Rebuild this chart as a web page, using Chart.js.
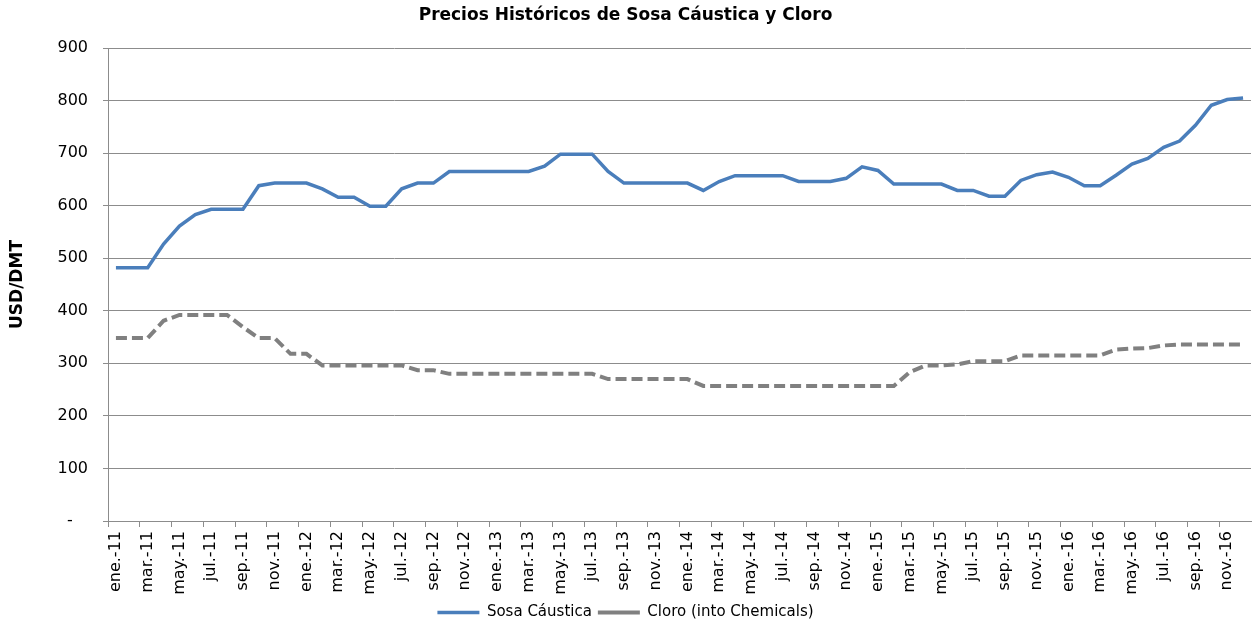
<!DOCTYPE html>
<html>
<head>
<meta charset="utf-8">
<script src="https://cdn.jsdelivr.net/npm/chart.js@4"></script>
<style>
  html, body { margin: 0; padding: 0; background: #fff; }
  #wrap { width: 1253px; height: 626px; }
</style>
</head>
<body>
<div id="wrap"><canvas id="chart"></canvas></div>
<script>
// Meses (ene.-11 .. dic.-16)
const meses = ['ene.', 'feb.', 'mar.', 'abr.', 'may.', 'jun.', 'jul.', 'ago.', 'sep.', 'oct.', 'nov.', 'dic.'];
const anios = ['11', '12', '13', '14', '15', '16'];
const categorias = [];
anios.forEach(a => meses.forEach(m => categorias.push(m + '-' + a)));

// Sosa Cáustica (USD/DMT)
const sosaCaustica = [
  482, 482, 482, 527, 561, 583, 593, 593, 593, 638, 643, 643,
  643, 632, 616, 616, 599, 599, 632, 643, 643, 665, 665, 665,
  665, 665, 665, 675, 698, 698, 698, 665, 643, 643, 643, 643,
  643, 629, 646, 657, 657, 657, 657, 646, 646, 646, 652, 674,
  667, 641, 641, 641, 641, 629, 629, 618, 618, 648, 659, 664,
  654, 638, 638, 658, 679, 690, 711, 723, 753, 791, 802, 805
];

// Cloro (into Chemicals)
const cloro = [
  348, 348, 348, 381, 392, 392, 392, 392, 369, 348, 348, 318,
  318, 296, 296, 296, 296, 296, 296, 287, 287, 280, 280, 280,
  280, 280, 280, 280, 280, 280, 280, 270, 270, 270, 270, 270,
  270, 257, 257, 257, 257, 257, 257, 257, 257, 257, 257, 257,
  257, 257, 283, 296, 296, 298, 304, 304, 304, 315, 315, 315,
  315, 315, 315, 326, 328, 329, 334, 336, 336, 336, 336, 336
];

const fuente = "'DejaVu Sans', Verdana, sans-serif";
const gris = '#8c8c8c';

const ctx = document.getElementById('chart').getContext('2d');
new Chart(ctx, {
  type: 'line',
  data: {
    labels: categorias,
    datasets: [
      {
        label: 'Sosa Cáustica',
        data: sosaCaustica,
        borderColor: '#4a7ebb',
        backgroundColor: '#4a7ebb',
        borderWidth: 3.5,
        pointRadius: 0,
        tension: 0
      },
      {
        label: 'Cloro (into Chemicals)',
        data: cloro,
        borderColor: '#808080',
        backgroundColor: '#808080',
        borderWidth: 4,
        borderDash: [11, 5],
        pointRadius: 0,
        tension: 0
      }
    ]
  },
  options: {
    responsive: true,
    maintainAspectRatio: false,
    animation: false,
    // el hueco fijo de 10px bajo la leyenda se recorta un poco
    layout: { padding: { left: 0, right: 2, top: 0, bottom: -4 } },
    plugins: {
      title: {
        display: true,
        text: 'Precios Históricos de Sosa Cáustica y Cloro',
        color: '#000',
        font: { family: fuente, size: 17, weight: 'bold' },
        padding: { top: 5, bottom: 22.6 }
      },
      legend: {
        position: 'bottom',
        labels: {
          color: '#000',
          font: { family: fuente, size: 15 },
          usePointStyle: true,
          pointStyle: 'line',
          pointStyleWidth: 42,
          padding: 6
        }
      },
      tooltip: { enabled: false }
    },
    scales: {
      x: {
        offset: true,
        grid: {
          offset: true,
          drawOnChartArea: false,
          tickLength: 6,
          color: c => (c.index % 2 === 0 ? gris : 'rgba(0,0,0,0)')
        },
        border: { color: gris },
        ticks: {
          autoSkip: false,
          maxRotation: 90,
          minRotation: 90,
          color: '#000',
          font: { family: fuente, size: 16 },
          padding: 4,
          callback: function(value, index) {
            return index % 2 === 0 ? this.getLabelForValue(value) : '';
          }
        },
        afterFit: s => { s.height = 78; s.paddingLeft = 0; s.paddingRight = 0; }
      },
      y: {
        min: 0,
        max: 900,
        ticks: {
          stepSize: 100,
          color: '#000',
          font: { family: fuente, size: 16 },
          padding: 15,
          callback: v => (v === 0 ? '-   ' : v)
        },
        grid: { color: gris, tickLength: 5 },
        border: { color: gris },
        title: {
          display: true,
          text: 'USD/DMT',
          color: '#000',
          font: { family: fuente, size: 17, weight: 'bold' },
          padding: { top: 7, bottom: 10 }
        },
        afterFit: s => { s.width = 108; }
      }
    }
  }
});
</script>
</body>
</html>
